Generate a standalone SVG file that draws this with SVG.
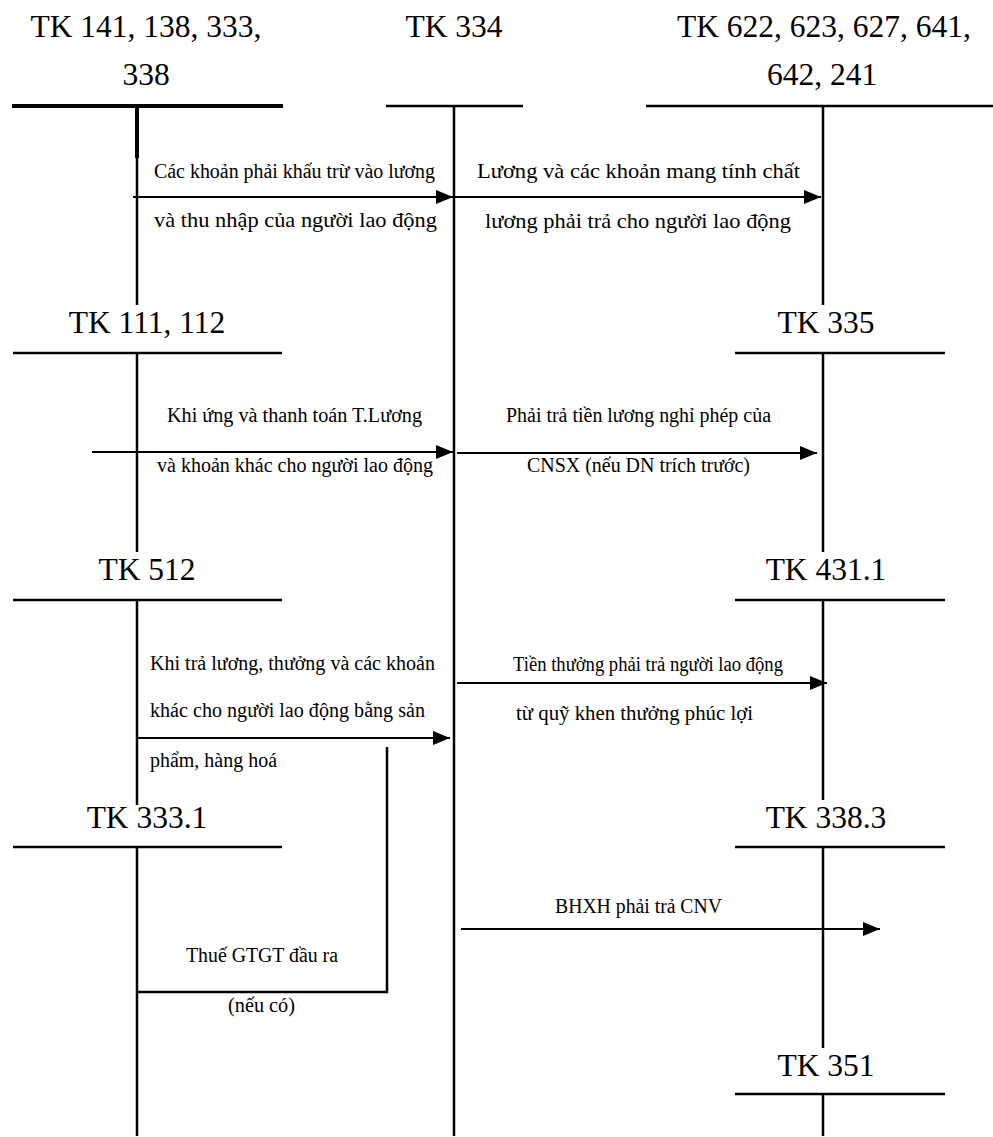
<svg xmlns="http://www.w3.org/2000/svg" width="993" height="1137" viewBox="0 0 993 1137">
<style>
.h{font-size:31.5px;text-anchor:middle}
.l{font-size:20px}
.b{font-size:22px}
.ln{stroke:#000;stroke-width:2.5;fill:none}
.thk{stroke:#000;stroke-width:4;fill:none}
.ar{stroke:#000;stroke-width:2;fill:none;marker-end:url(#ah)}
</style>
<defs>
<marker id="ah" viewBox="0 0 17 14" refX="17" refY="7" markerWidth="17" markerHeight="14" markerUnits="userSpaceOnUse" orient="auto">
<path d="M0,0 L17,7 L0,14 z" fill="#000"/>
</marker>
</defs>
<rect width="993" height="1137" fill="#fff"/>
<g font-family="'Liberation Serif', 'Times New Roman', Tinos, 'DejaVu Serif', serif" fill="#000">
<g id="tk141">
<text class="h" x="146" y="37">TK 141, 138, 333,</text>
<text class="h" x="146" y="85">338</text>
<line class="thk" x1="12" y1="106" x2="283" y2="106"/>
<line class="thk" x1="137" y1="106" x2="137" y2="158"/>
<line class="ln" x1="137" y1="158" x2="137" y2="305"/>
</g>
<g id="tk334">
<text class="h" x="454" y="37">TK 334</text>
<line class="ln" x1="386" y1="106" x2="523" y2="106"/>
<line class="ln" x1="454" y1="106" x2="454" y2="1136"/>
</g>
<g id="tk622">
<text class="h" x="824" y="37">TK 622, 623, 627, 641,</text>
<text class="h" x="822" y="85">642, 241</text>
<line class="ln" x1="646" y1="106" x2="993" y2="106"/>
<line class="ln" x1="823" y1="106" x2="823" y2="305"/>
</g>
<g id="tk111">
<text class="h" x="147" y="333">TK 111, 112</text>
<line class="ln" x1="13" y1="353" x2="282" y2="353"/>
<line class="ln" x1="137" y1="353" x2="137" y2="552"/>
</g>
<g id="tk335">
<text class="h" x="826" y="333">TK 335</text>
<line class="ln" x1="735" y1="353" x2="945" y2="353"/>
<line class="ln" x1="823" y1="353" x2="823" y2="552"/>
</g>
<g id="tk512">
<text class="h" x="147" y="580">TK 512</text>
<line class="ln" x1="13" y1="600" x2="282" y2="600"/>
<line class="ln" x1="137" y1="600" x2="137" y2="805"/>
</g>
<g id="tk4311">
<text class="h" x="826" y="580">TK 431.1</text>
<line class="ln" x1="735" y1="600" x2="945" y2="600"/>
<line class="ln" x1="823" y1="600" x2="823" y2="800"/>
</g>
<g id="tk3331">
<text class="h" x="147" y="828">TK 333.1</text>
<line class="ln" x1="13" y1="847" x2="282" y2="847"/>
<line class="ln" x1="137" y1="847" x2="137" y2="1136"/>
</g>
<g id="tk3383">
<text class="h" x="826" y="828">TK 338.3</text>
<line class="ln" x1="735" y1="847" x2="945" y2="847"/>
<line class="ln" x1="823" y1="847" x2="823" y2="1048"/>
</g>
<g id="tk351">
<text class="h" x="826" y="1076">TK 351</text>
<line class="ln" x1="735" y1="1094" x2="945" y2="1094"/>
<line class="ln" x1="823" y1="1094" x2="823" y2="1136"/>
</g>

<g id="connectors">
<line class="ar" x1="133" y1="197" x2="453" y2="197"/>
<line class="ar" x1="454" y1="197" x2="821" y2="197"/>
<line class="ar" x1="92" y1="452" x2="453" y2="452"/>
<line class="ar" x1="457" y1="453" x2="817" y2="453"/>
<line class="ar" x1="137" y1="738" x2="450" y2="738"/>
<line class="ar" x1="457" y1="683" x2="827" y2="683"/>
<line class="ar" x1="461" y1="929" x2="880" y2="929"/>
<polyline class="ln" points="387,747 387,992 137,992"/>
</g>

<g id="labels">
<text class="l" x="154" y="178" textLength="281" lengthAdjust="spacingAndGlyphs">Các khoản phải khấu trừ vào lương</text>
<text class="b" x="154" y="227" textLength="283" lengthAdjust="spacingAndGlyphs">và thu nhập của người lao động</text>
<text class="b" x="477" y="178" textLength="323" lengthAdjust="spacingAndGlyphs">Lương và các khoản mang tính chất</text>
<text class="b" x="485" y="228" textLength="306" lengthAdjust="spacingAndGlyphs">lương phải trả cho người lao động</text>
<text class="l" x="167" y="422" textLength="255" lengthAdjust="spacingAndGlyphs">Khi ứng và thanh toán T.Lương</text>
<text class="l" x="157" y="472" textLength="276" lengthAdjust="spacingAndGlyphs">và khoản khác cho người lao động</text>
<text class="l" x="506" y="422" textLength="265" lengthAdjust="spacingAndGlyphs">Phải trả tiền lương nghỉ phép của</text>
<text class="l" x="527" y="472" textLength="223" lengthAdjust="spacingAndGlyphs">CNSX (nếu DN trích trước)</text>
<text class="l" x="150" y="670" textLength="285" lengthAdjust="spacingAndGlyphs">Khi trả lương, thưởng và các khoản</text>
<text class="l" x="150" y="717" textLength="275" lengthAdjust="spacingAndGlyphs">khác cho người lao động bằng sản</text>
<text class="l" x="150" y="767" textLength="127" lengthAdjust="spacingAndGlyphs">phẩm, hàng hoá</text>
<text class="l" x="513" y="671" textLength="270" lengthAdjust="spacingAndGlyphs">Tiền thưởng phải trả người lao động</text>
<text class="l" x="516" y="720" textLength="237" lengthAdjust="spacingAndGlyphs">từ quỹ khen thưởng phúc lợi</text>
<text class="l" x="555" y="913" textLength="167" lengthAdjust="spacingAndGlyphs">BHXH phải trả CNV</text>
<text class="l" x="186" y="962" textLength="152" lengthAdjust="spacingAndGlyphs">Thuế GTGT đầu ra</text>
<text class="l" x="228" y="1012" textLength="67" lengthAdjust="spacingAndGlyphs">(nếu có)</text>
</g>
</g>
</svg>
